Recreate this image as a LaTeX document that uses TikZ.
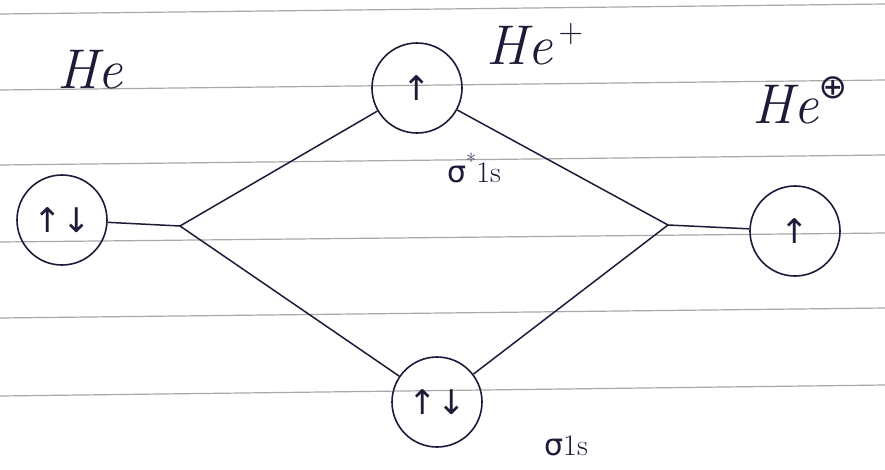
\documentclass[tikz,border=0pt]{standalone}
\usepackage{fontspec}
\newfontfamily\symfont{DejaVu Sans}
\definecolor{ink}{HTML}{1C1C38}
\definecolor{rule}{HTML}{A8A8A8}
\begin{document}
\begin{tikzpicture}[x=1pt,y=-1pt,
  orb/.style={circle,draw=ink,line width=1.6pt,minimum size=90pt,inner sep=0pt,text=ink,font=\symfont\fontsize{34}{36}\selectfont},
  lbl/.style={text=ink,font=\itshape\fontsize{56}{60}\selectfont,inner sep=0pt},
  sml/.style={text=ink,font=\fontsize{30}{34}\selectfont,inner sep=0pt},
  bond/.style={draw=ink,line width=1.5pt},
  ruled/.style={draw=rule,line width=1.2pt}]
\useasboundingbox (0,0) rectangle (885,469);
\fill[white] (0,0) rectangle (885,469);
% ruled paper
\draw[ruled] (0,14) -- (885,4);
\draw[ruled] (0,90) -- (885,80);
\draw[ruled] (0,165) -- (885,155);
\draw[ruled] (0,242) -- (885,233);
\draw[ruled] (0,318) -- (885,308);
\draw[ruled] (0,396) -- (885,385);
% orbitals
\node[orb] (L) at (62,220) {↑↓};
\node[orb] (T) at (417,88) {↑};
\node[orb] (B) at (437,402) {↑↓};
\node[orb] (R) at (795,231) {↑};
\coordinate (jl) at (180,226);
\coordinate (jr) at (668,225);
\draw[bond] (L) -- (jl);
\draw[bond] (jl) -- (T);
\draw[bond] (jl) -- (B);
\draw[bond] (T) -- (jr);
\draw[bond] (B) -- (jr);
\draw[bond] (jr) -- (R);
% labels
\node[lbl] (he1) at (90,70) {He};
\node[lbl] (he2) at (535,44) {He\raisebox{0.4em}{\upshape\fontsize{34}{36}\selectfont\,+}};
\node[lbl] (he3) at (800,100) {He\raisebox{0.45em}{\symfont\fontsize{34}{36}\selectfont ⊕}};
\node[sml] (s1) at (474,168) {{\symfont σ}\raisebox{0.45em}{\fontsize{22}{24}\selectfont *}1s};
\node[sml] (s2) at (566,446) {{\symfont σ}1s};
\end{tikzpicture}
\end{document}
